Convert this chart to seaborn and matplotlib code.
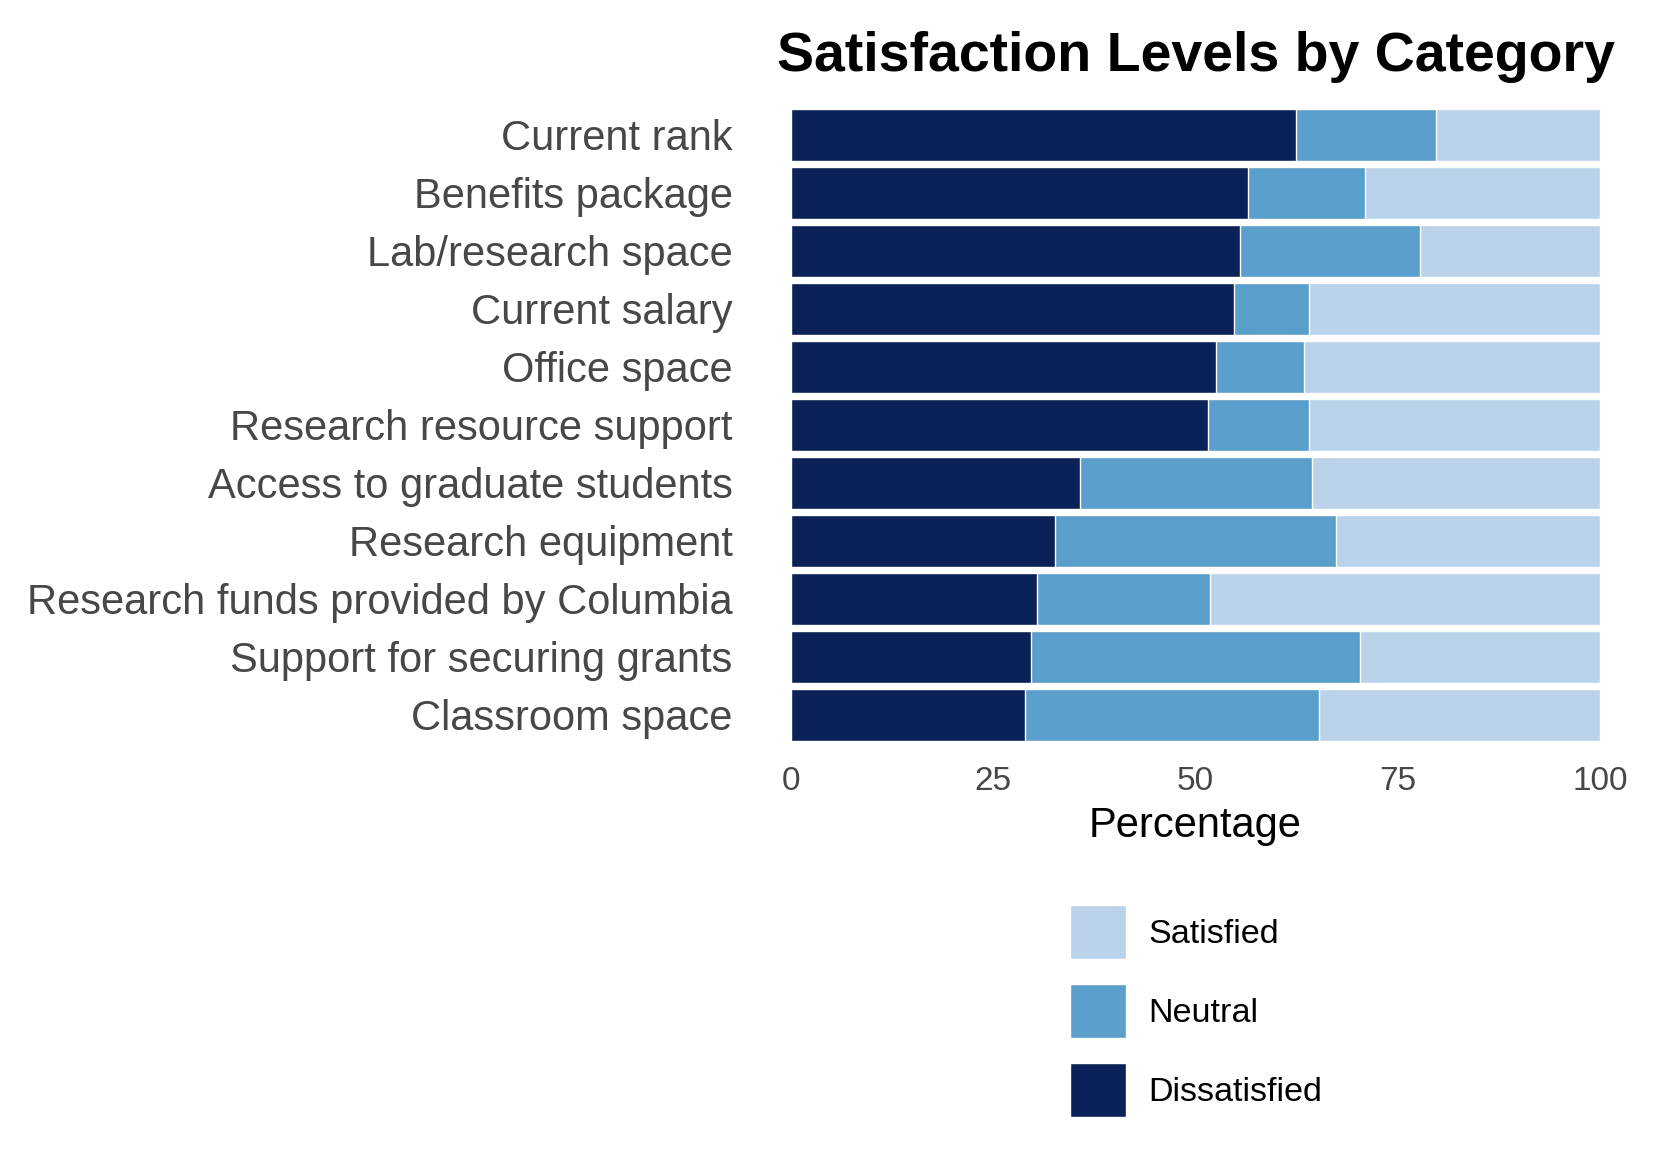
import pandas as pd
import matplotlib.pyplot as plt
import seaborn as sns

categorias = [
    'Current rank',
    'Benefits package',
    'Lab/research space',
    'Current salary',
    'Office space',
    'Research resource support',
    'Access to graduate students',
    'Research equipment',
    'Research funds provided by Columbia',
    'Support for securing grants',
    'Classroom space',
]
insatisfecho = [62.4, 56.5, 55.5, 54.7, 52.5, 51.6, 35.7, 32.6, 30.4, 29.7, 28.9]
neutral = [17.3, 14.5, 22.3, 9.3, 10.9, 12.4, 28.7, 34.8, 21.4, 40.6, 36.4]
satisfecho = [20.3, 29.0, 22.2, 36.0, 36.6, 36.0, 35.6, 32.6, 48.2, 29.7, 34.7]

colores = {
    'Satisfied': '#bbd2eb',
    'Neutral': '#5a9fcb',
    'Dissatisfied': '#0b2259',
}

df = pd.DataFrame({
    'categoria': categorias,
    'Dissatisfied': insatisfecho,
    'Neutral': neutral,
    'Satisfied': satisfecho,
})
# acumulados para apilar las barras
df['hasta_neutral'] = df['Dissatisfied'] + df['Neutral']
df['total'] = df['hasta_neutral'] + df['Satisfied']

sns.set_style('white')
plt.rcParams['font.family'] = ['Liberation Sans', 'DejaVu Sans']

fig = plt.figure(figsize=(16.56, 11.49), dpi=100)
ax = fig.add_axes([0.4777, 0.3525, 0.4885, 0.5555])

sns.barplot(data=df, y='categoria', x='total', color=colores['Satisfied'],
            orient='h', width=0.9, saturation=1, ax=ax, label='Satisfied')
sns.barplot(data=df, y='categoria', x='hasta_neutral', color=colores['Neutral'],
            orient='h', width=0.9, saturation=1, ax=ax, label='Neutral')
sns.barplot(data=df, y='categoria', x='Dissatisfied', color=colores['Dissatisfied'],
            orient='h', width=0.9, saturation=1, ax=ax, label='Dissatisfied')

ax.set_xlim(0, 100)
ax.set_ylim(len(categorias) - 0.5, -0.5)
ax.set_xticks([0, 25, 50, 75, 100])
ax.set_ylabel('')
ax.set_xlabel('Percentage', fontsize=30, color='black', labelpad=6)
sns.despine(ax=ax, left=True, bottom=True)

ax.tick_params(axis='y', labelsize=30, labelcolor='#474747', length=0, pad=42)
ax.tick_params(axis='x', labelsize=24, labelcolor='#474747', length=0, pad=16)

ax.set_title('Satisfaction Levels by Category', fontsize=40, fontweight='bold',
             color='black', pad=25)

handles, labels = ax.get_legend_handles_labels()
leyenda = ax.legend(handles, labels, loc='upper left', bbox_to_anchor=(0.646, 0.212),
                    bbox_transform=fig.transFigure, frameon=False, fontsize=24.6,
                    handlelength=1.66, handleheight=2.05, labelspacing=0.73,
                    handletextpad=0.65, borderpad=0, borderaxespad=0)
for t in leyenda.get_texts():
    t.set_color('black')

plt.savefig('out.png', dpi=100)
